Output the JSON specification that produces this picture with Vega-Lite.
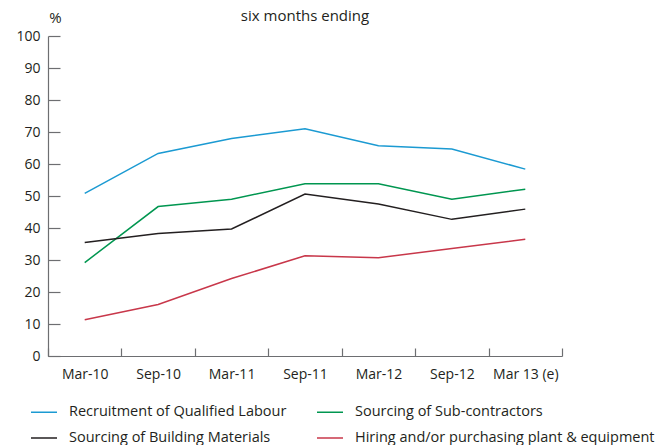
{
  "$schema": "https://vega.github.io/schema/vega-lite/v6.json",
  "width": 514,
  "height": 320,
  "autosize": {"type": "none"},
  "padding": {"left": 48, "top": 36, "right": 103, "bottom": 89},
  "background": "white",
  "title": {"text": "six months ending", "anchor": "middle", "frame": "group", "fontSize": 15, "font": "Open Sans", "fontWeight": "normal", "color": "#231f20", "offset": -14},
  "config": {
    "view": {"stroke": null},
    "font": "Open Sans",
    "axis": {"labelFont": "Open Sans", "titleFont": "Open Sans", "labelColor": "#231f20", "domainColor": "#6d6e71", "tickColor": "#6d6e71", "domainWidth": 1.2, "tickWidth": 1.2, "grid": false}
  },
  "data": {"values": [
    {"period": "Mar-10", "series": "Recruitment of Qualified Labour", "value": 50.8},
    {"period": "Sep-10", "series": "Recruitment of Qualified Labour", "value": 63.3},
    {"period": "Mar-11", "series": "Recruitment of Qualified Labour", "value": 68.0},
    {"period": "Sep-11", "series": "Recruitment of Qualified Labour", "value": 71.0},
    {"period": "Mar-12", "series": "Recruitment of Qualified Labour", "value": 65.7},
    {"period": "Sep-12", "series": "Recruitment of Qualified Labour", "value": 64.7},
    {"period": "Mar 13 (e)", "series": "Recruitment of Qualified Labour", "value": 58.4},
    {"period": "Mar-10", "series": "Sourcing of Sub-contractors", "value": 29.2},
    {"period": "Sep-10", "series": "Sourcing of Sub-contractors", "value": 46.7},
    {"period": "Mar-11", "series": "Sourcing of Sub-contractors", "value": 49.0},
    {"period": "Sep-11", "series": "Sourcing of Sub-contractors", "value": 53.8},
    {"period": "Mar-12", "series": "Sourcing of Sub-contractors", "value": 53.8},
    {"period": "Sep-12", "series": "Sourcing of Sub-contractors", "value": 49.0},
    {"period": "Mar 13 (e)", "series": "Sourcing of Sub-contractors", "value": 52.1},
    {"period": "Mar-10", "series": "Sourcing of Building Materials", "value": 35.5},
    {"period": "Sep-10", "series": "Sourcing of Building Materials", "value": 38.3},
    {"period": "Mar-11", "series": "Sourcing of Building Materials", "value": 39.7},
    {"period": "Sep-11", "series": "Sourcing of Building Materials", "value": 50.6},
    {"period": "Mar-12", "series": "Sourcing of Building Materials", "value": 47.5},
    {"period": "Sep-12", "series": "Sourcing of Building Materials", "value": 42.7},
    {"period": "Mar 13 (e)", "series": "Sourcing of Building Materials", "value": 45.9},
    {"period": "Mar-10", "series": "Hiring and/or purchasing plant & equipment", "value": 11.3},
    {"period": "Sep-10", "series": "Hiring and/or purchasing plant & equipment", "value": 16.1},
    {"period": "Mar-11", "series": "Hiring and/or purchasing plant & equipment", "value": 24.2},
    {"period": "Sep-11", "series": "Hiring and/or purchasing plant & equipment", "value": 31.3},
    {"period": "Mar-12", "series": "Hiring and/or purchasing plant & equipment", "value": 30.7},
    {"period": "Sep-12", "series": "Hiring and/or purchasing plant & equipment", "value": 33.6},
    {"period": "Mar 13 (e)", "series": "Hiring and/or purchasing plant & equipment", "value": 36.5}
  ]},
  "mark": {"type": "line", "strokeWidth": 1.5},
  "encoding": {
    "x": {
      "field": "period", "type": "ordinal",
      "sort": ["Mar-10", "Sep-10", "Mar-11", "Sep-11", "Mar-12", "Sep-12", "Mar 13 (e)"],
      "bandPosition": 0.5,
      "scale": {"type": "band", "paddingInner": 0, "paddingOuter": 0},
      "axis": {"title": null, "labelAngle": 0, "tickBand": "extent", "tickSize": -8, "labelPadding": 19, "labelFontSize": 14}
    },
    "y": {
      "field": "value", "type": "quantitative",
      "scale": {"domain": [0, 100], "nice": false},
      "axis": {"values": [0, 10, 20, 30, 40, 50, 60, 70, 80, 90, 100], "tickSize": -12, "labelPadding": 20, "labelFontSize": 14,
               "title": "%", "titleAngle": 0, "titleX": 7, "titleY": -19, "titleAlign": "center", "titleBaseline": "middle", "titleFontSize": 15, "titleFontWeight": "normal", "titleColor": "#231f20"}
    },
    "color": {
      "field": "series", "type": "nominal",
      "scale": {
        "domain": ["Recruitment of Qualified Labour", "Sourcing of Sub-contractors", "Sourcing of Building Materials", "Hiring and/or purchasing plant & equipment"],
        "range": ["#1b9ad2", "#009650", "#231f20", "#c8374a"]
      },
      "legend": {
        "title": null, "orient": "none", "legendX": -18, "legendY": 362, "columns": 2, "direction": "horizontal",
        "symbolType": "stroke", "symbolSize": 676, "symbolStrokeWidth": 1.5,
        "labelFont": "Open Sans", "labelFontSize": 14.5, "labelColor": "#231f20", "labelOffset": 11, "labelLimit": 400,
        "columnPadding": 27, "rowPadding": 5
      }
    }
  }
}
